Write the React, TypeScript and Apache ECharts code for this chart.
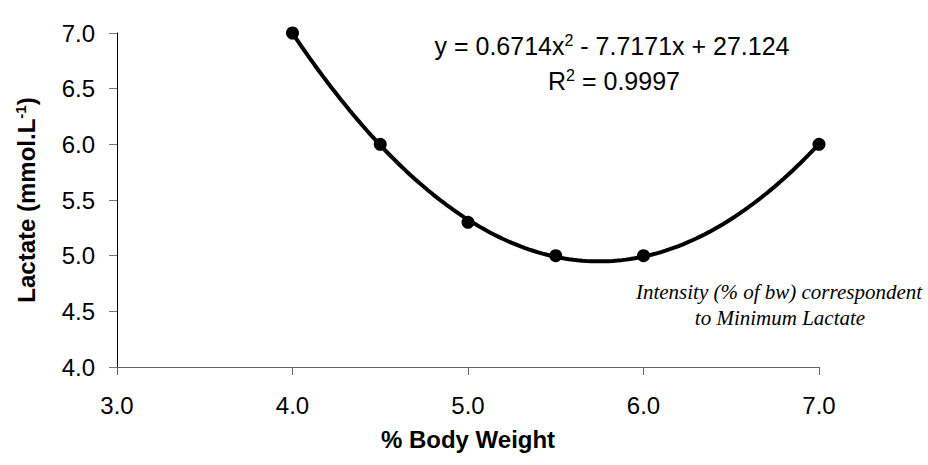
import React, { useEffect, useRef } from "react";
import * as echarts from "echarts";

// Measured points: load as % body weight vs blood lactate
const bodyWeightPct = [4.0, 4.5, 5.0, 5.5, 6.0, 7.0];
const lactate = [7.0, 6.0, 5.3, 5.0, 5.0, 6.0];

// Quadratic trendline y = a x^2 + b x + c, as reported on the chart
const trendCoef = [0.6714, -7.7171, 27.124];
const trendRange = [4.0, 7.0];
const trendR2 = "0.9997";

const xAxisRange = [3.0, 7.0];
const yAxisRange = [4.0, 7.0];

const SANS = "'Liberation Sans', Arial, sans-serif";
const SERIF = "'Liberation Serif', 'Times New Roman', serif";

function trendPoints(): number[][] {
  const [a, b, c] = trendCoef;
  const pts: number[][] = [];
  const steps = 120;
  for (let i = 0; i <= steps; i++) {
    const x = trendRange[0] + ((trendRange[1] - trendRange[0]) * i) / steps;
    pts.push([x, a * x * x + b * x + c]);
  }
  return pts;
}

export default function App() {
  const ref = useRef<HTMLDivElement>(null);

  useEffect(() => {
    if (!ref.current) return;
    const chart = echarts.init(ref.current, null, { renderer: "svg" });
    const [a, b, c] = trendCoef;

    const eqRich = {
      t: { fill: "#000", fontFamily: SANS, fontSize: 25, lineHeight: 27 },
      s: { fill: "#000", fontFamily: SANS, fontSize: 16, verticalAlign: "top", lineHeight: 15 },
    };

    chart.setOption({
      animation: false,
      backgroundColor: "#ffffff",
      grid: { left: 117, right: 109, top: 33, bottom: 98 },
      xAxis: {
        type: "value",
        min: xAxisRange[0],
        max: xAxisRange[1],
        interval: 1,
        axisLine: { show: true, lineStyle: { color: "#666666", width: 1 } },
        axisTick: { show: true, length: 8, lineStyle: { color: "#666666" } },
        splitLine: { show: false },
        axisLabel: {
          margin: 26,
          color: "#000",
          fontFamily: SANS,
          fontSize: 24,
          formatter: (v: number) => v.toFixed(1),
        },
        name: "% Body Weight",
        nameLocation: "middle",
        nameGap: 60,
        nameTextStyle: {
          color: "#000",
          fontFamily: SANS,
          fontSize: 24,
          fontWeight: "bold",
        },
      },
      yAxis: {
        type: "value",
        min: yAxisRange[0],
        max: yAxisRange[1],
        interval: 0.5,
        axisLine: { show: true, lineStyle: { color: "#000000", width: 1 } },
        axisTick: { show: true, length: 8, lineStyle: { color: "#777777" } },
        splitLine: { show: false },
        axisLabel: {
          margin: 22,
          color: "#000",
          fontFamily: SANS,
          fontSize: 24,
          formatter: (v: number) => v.toFixed(1),
        },
        name: "{t|Lactate (mmol.L}{s|-1}{t|)}",
        nameLocation: "middle",
        nameRotate: 90,
        nameGap: 78,
        nameTextStyle: {
          rich: {
            t: {
              color: "#000",
              fontFamily: SANS,
              fontSize: 24,
              fontWeight: "bold",
              lineHeight: 26,
            },
            s: {
              color: "#000",
              fontFamily: SANS,
              fontSize: 15,
              fontWeight: "bold",
              verticalAlign: "top",
              lineHeight: 15,
            },
          },
        },
      },
      graphic: [
        {
          type: "text",
          x: 612,
          y: 46,
          style: {
            text: `{t|y = ${a}x}{s|2}{t| - ${Math.abs(b)}x + ${c}}`,
            align: "center",
            verticalAlign: "middle",
            rich: eqRich,
          },
        },
        {
          type: "text",
          x: 614,
          y: 81,
          style: {
            text: `{t|R}{s|2}{t| = ${trendR2}}`,
            align: "center",
            verticalAlign: "middle",
            rich: eqRich,
          },
        },
        {
          type: "text",
          x: 779,
          y: 292,
          style: {
            text: "Intensity (% of bw) correspondent",
            align: "center",
            verticalAlign: "middle",
            fill: "#000",
            font: `italic 21px ${SERIF}`,
          },
        },
        {
          type: "text",
          x: 780,
          y: 318,
          style: {
            text: "to Minimum Lactate",
            align: "center",
            verticalAlign: "middle",
            fill: "#000",
            font: `italic 21px ${SERIF}`,
          },
        },
      ],
      series: [
        {
          name: "Trend",
          type: "line",
          data: trendPoints(),
          showSymbol: false,
          smooth: false,
          lineStyle: { color: "#000", width: 4 },
          z: 2,
        },
        {
          name: "Lactate",
          type: "scatter",
          data: bodyWeightPct.map((x, i) => [x, lactate[i]]),
          symbol: "circle",
          symbolSize: 13,
          itemStyle: { color: "#000", opacity: 1 },
          z: 3,
        },
      ],
    });

    return () => chart.dispose();
  }, []);

  return (
    <div
      ref={ref}
      style={{ position: "fixed", left: 0, top: 0, width: 928, height: 465, background: "#fff" }}
    />
  );
}
